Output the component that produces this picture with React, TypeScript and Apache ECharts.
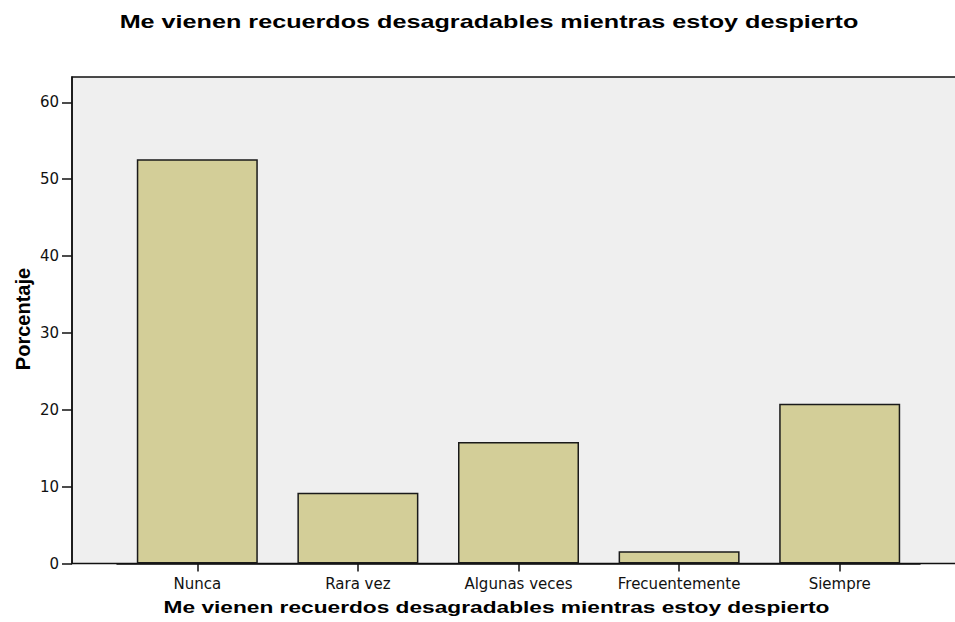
import React, { useEffect, useRef } from "react";
import * as echarts from "echarts";

const chartTitle = "Me vienen recuerdos desagradables mientras estoy despierto";
const xAxisTitle = "Me vienen recuerdos desagradables mientras estoy despierto";
const yAxisTitle = "Porcentaje";
const categories = ["Nunca", "Rara vez", "Algunas veces", "Frecuentemente", "Siempre"];
const percentages = [52.6, 9.2, 15.8, 1.6, 20.8];
const yMin = 0;
const yMax = 63.3;
const yInterval = 10;

export default function App() {
  const ref = useRef<HTMLDivElement>(null);
  useEffect(() => {
    if (!ref.current) return;
    const chart = echarts.init(ref.current, null, { renderer: "svg" });
    const plotLeft = 72;
    const plotTop = 77;
    const plotBottom = 563.5;
    chart.setOption({
      animation: false,
      backgroundColor: "#ffffff",
      grid: { left: 117, right: 35, top: plotTop, bottom: 622 - plotBottom, containLabel: false },
      xAxis: {
        type: "category",
        data: categories,
        axisLine: { show: true, lineStyle: { color: "#111", width: 1.5 } },
        axisTick: { show: true, alignWithLabel: true, length: 8, lineStyle: { color: "#111", width: 1.5 } },
        axisLabel: { color: "#111", fontSize: 15, fontFamily: "DejaVu Sans", margin: 13 },
        splitLine: { show: false },
      },
      yAxis: {
        type: "value",
        min: yMin,
        max: yMax,
        interval: yInterval,
        offset: 45,
        axisLine: { show: true, lineStyle: { color: "#111", width: 1.5 } },
        axisTick: { show: true, length: 10, lineStyle: { color: "#111", width: 1.5 } },
        axisLabel: { color: "#111", fontSize: 15, fontFamily: "DejaVu Sans", margin: 13, showMaxLabel: false },
        splitLine: { show: false },
      },
      series: [
        {
          type: "bar",
          data: percentages,
          barWidth: 121,
          itemStyle: { color: "#d3ce98", borderColor: "#1a1a1a", borderWidth: 1.5 },
        },
      ],
      graphic: [
        {
          type: "rect",
          z: -10,
          silent: true,
          shape: { x: plotLeft, y: plotTop, width: 1200, height: plotBottom - plotTop },
          style: { fill: "#efefef", stroke: "#111", lineWidth: 1.5 },
        },
        {
          type: "text",
          x: 489,
          y: 22.3,
          scaleX: 1.4,
          style: {
            text: chartTitle,
            fill: "#000",
            font: 'bold 18px "Liberation Sans", Arial, sans-serif',
            textAlign: "center",
            align: "center",
            textVerticalAlign: "middle",
            verticalAlign: "middle",
          },
        },
        {
          type: "text",
          x: 496.5,
          y: 607.5,
          scaleX: 1.42,
          style: {
            text: xAxisTitle,
            fill: "#000",
            font: 'bold 16px "Liberation Sans", Arial, sans-serif',
            textAlign: "center",
            align: "center",
            textVerticalAlign: "middle",
            verticalAlign: "middle",
          },
        },
        {
          type: "text",
          x: 22.5,
          y: 319,
          rotation: Math.PI / 2,
          style: {
            text: yAxisTitle,
            fill: "#000",
            font: 'bold 20px "Liberation Sans", Arial, sans-serif',
            textAlign: "center",
            align: "center",
            textVerticalAlign: "middle",
            verticalAlign: "middle",
          },
        },
      ],
    });
    return () => chart.dispose();
  }, []);
  return (
    <div
      ref={ref}
      style={{ position: "fixed", left: 0, top: 0, width: 955, height: 622 }}
    />
  );
}
